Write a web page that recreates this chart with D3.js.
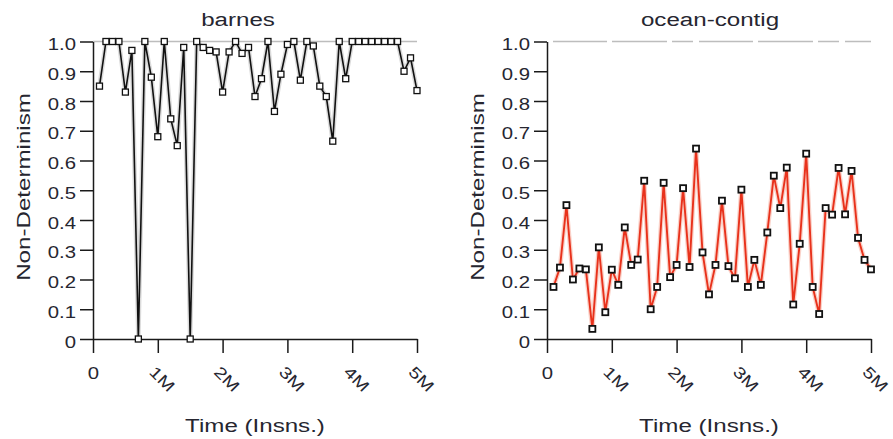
<!DOCTYPE html>
<html>
<head>
<meta charset="utf-8">
<script src="https://cdn.jsdelivr.net/npm/d3@7"></script>
<style>
body { margin: 0; background: #fff; }
svg { display: block; font-family: "Liberation Sans", Arial, sans-serif; }
</style>
</head>
<body>
<svg width="893" height="439"></svg>
<script>
// time in millions of instructions
var times = [0.1, 0.2, 0.3, 0.4, 0.5, 0.6, 0.7, 0.8, 0.9, 1.0,
    1.1, 1.2, 1.3, 1.4, 1.5, 1.6, 1.7, 1.8, 1.9, 2.0,
    2.1, 2.2, 2.3, 2.4, 2.5, 2.6, 2.7, 2.8, 2.9, 3.0,
    3.1, 3.2, 3.3, 3.4, 3.5, 3.6, 3.7, 3.8, 3.9, 4.0,
    4.1, 4.2, 4.3, 4.4, 4.5, 4.6, 4.7, 4.8, 4.9, 5.0];

var barnes = [0.85, 1.0, 1.0, 1.0, 0.83, 0.97, 0.0, 1.0, 0.88, 0.68,
    1.0, 0.74, 0.65, 0.98, 0.0, 1.0, 0.98, 0.97, 0.965, 0.83,
    0.965, 1.0, 0.96, 0.98, 0.815, 0.875, 1.0, 0.765, 0.89, 0.99,
    1.0, 0.87, 1.0, 0.985, 0.85, 0.815, 0.665, 1.0, 0.875, 1.0,
    1.0, 1.0, 1.0, 1.0, 1.0, 1.0, 1.0, 0.90, 0.945, 0.835];

var oceanContig = [0.175, 0.24, 0.45, 0.2, 0.237, 0.234, 0.034, 0.308, 0.09, 0.233,
    0.182, 0.375, 0.249, 0.267, 0.532, 0.1, 0.175, 0.525, 0.208, 0.249,
    0.507, 0.242, 0.64, 0.291, 0.15, 0.249, 0.465, 0.245, 0.204, 0.502,
    0.175, 0.266, 0.182, 0.358, 0.549, 0.44, 0.576, 0.116, 0.32, 0.623,
    0.175, 0.084, 0.44, 0.418, 0.575, 0.419, 0.565, 0.34, 0.266, 0.234];

var xTicks = [0, 1, 2, 3, 4, 5];
var xTickLabels = ["0", "1M", "2M", "3M", "4M", "5M"];
var yTicks = [0, 0.1, 0.2, 0.3, 0.4, 0.5, 0.6, 0.7, 0.8, 0.9, 1.0];
var yTickLabels = ["0", "0.1", "0.2", "0.3", "0.4", "0.5", "0.6", "0.7", "0.8", "0.9", "1.0"];
var titles = ["barnes", "ocean-contig"];
var xTitle = "Time (Insns.)";
var yTitle = "Non-Determinism";

var stretch = 1.27;
var plotTop = 41.5, plotBottom = 339;
var textColor = "#262630";

var panels = [
    { title: titles[0], values: barnes, left: 93, right: 417, titleX: 238,
      line: "#111", lineWidth: 1.6, glow: "#999", glowOpacity: 0.35, markStroke: 1.3, dash: null },
    { title: titles[1], values: oceanContig, left: 547, right: 871, titleX: 710,
      line: "#e8321c", lineWidth: 1.9, glow: "#f39a86", glowOpacity: 0.45, markStroke: 1.8, dash: "54,5,55,5,21,6" }
];

var svg = d3.select("svg");
svg.append("rect").attr("width", 893).attr("height", 439).attr("fill", "#fff");

panels.forEach(function(p) {
    var x = d3.scaleLinear().domain([0, 5]).range([p.left, p.right]);
    var y = d3.scaleLinear().domain([0, 1]).range([plotBottom, plotTop]);
    var g = svg.append("g");

    // reference line at 1.0
    g.append("line")
        .attr("x1", p.dash ? x(0) + 6 : x(0))
        .attr("x2", x(5))
        .attr("y1", y(1)).attr("y2", y(1))
        .attr("stroke", "#bdbdbd")
        .attr("stroke-width", 1.4)
        .attr("stroke-dasharray", p.dash);

    var yAxis = d3.axisLeft(y).tickValues(yTicks)
        .tickFormat((d, i) => yTickLabels[i])
        .tickSize(13).tickSizeOuter(0).tickPadding(4);
    var xAxis = d3.axisBottom(x).tickValues(xTicks)
        .tickFormat((d, i) => xTickLabels[i])
        .tickSize(14).tickSizeOuter(0);

    var ya = g.append("g").attr("transform", "translate(" + p.left + ",0)").call(yAxis);
    var xa = g.append("g").attr("transform", "translate(0," + plotBottom + ")").call(xAxis);

    [ya, xa].forEach(function(a) {
        a.selectAll("path, line").attr("stroke", "#1a1a1a").attr("stroke-width", 1.5);
        a.selectAll("text").attr("fill", textColor).style("font-size", "16px")
            .style("font-family", "'Liberation Sans', Arial, sans-serif");
    });

    ya.selectAll("text")
        .attr("x", 0).attr("dy", "0.5em")
        .attr("transform", "translate(-17,0) scale(" + stretch + ",1)");

    xa.selectAll("text").each(function(d, i) {
        var t = d3.select(this).attr("x", 0).attr("dy", null);
        if (i === 0) {
            t.attr("y", 40).attr("text-anchor", "middle")
                .attr("transform", "scale(" + stretch + ",1)");
        } else {
            t.attr("y", 0).attr("text-anchor", "start")
                .attr("transform", "translate(-10,34) rotate(45) scale(" + stretch + ",1)");
        }
    });

    var line = d3.line()
        .x((d, i) => x(times[i]))
        .y((d) => y(d));

    g.append("path")
        .attr("d", line(p.values))
        .attr("fill", "none")
        .attr("stroke", p.glow)
        .attr("stroke-opacity", p.glowOpacity)
        .attr("stroke-width", 4.5)
        .attr("stroke-linejoin", "round");

    g.append("path")
        .attr("d", line(p.values))
        .attr("fill", "none")
        .attr("stroke", p.line)
        .attr("stroke-width", p.lineWidth);

    g.selectAll("rect.mark")
        .data(p.values)
        .enter().append("rect")
        .attr("class", "mark")
        .attr("x", (d, i) => x(times[i]) - 3)
        .attr("y", (d) => y(d) - 3)
        .attr("width", 6).attr("height", 6)
        .attr("fill", "#fff")
        .attr("stroke", "#111")
        .attr("stroke-width", p.markStroke);

    g.append("text")
        .attr("transform", "translate(" + p.titleX + ",26) scale(" + stretch + ",1)")
        .attr("text-anchor", "middle")
        .style("font-size", "19px")
        .attr("fill", textColor)
        .text(p.title);

    g.append("text")
        .attr("transform", "translate(" + ((p.left + p.right) / 2) + ",432) scale(" + stretch + ",1)")
        .attr("text-anchor", "middle")
        .style("font-size", "19px")
        .attr("fill", textColor)
        .text(xTitle);

    g.append("text")
        .attr("transform", "translate(" + (p.left - 63) + ",187) rotate(-90) scale(" + stretch + ",1)")
        .attr("text-anchor", "middle")
        .style("font-size", "19px")
        .attr("fill", textColor)
        .text(yTitle);
});
</script>
</body>
</html>
